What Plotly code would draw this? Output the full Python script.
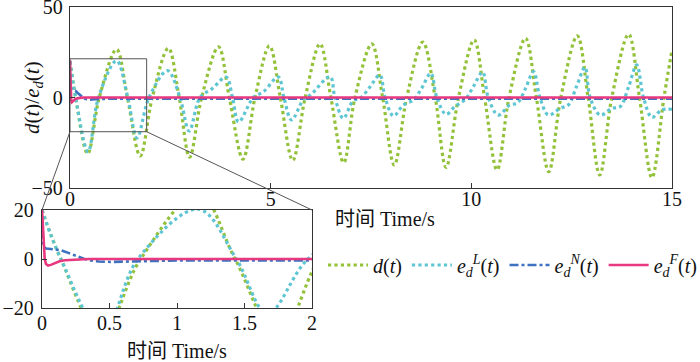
import plotly.graph_objects as go

# ---------------- data ----------------
t_d = [0, 0.14, 0.44, 0.73, 1.16, 1.43, 1.75, 2.05, 2.45, 2.72, 2.98, 3.28, 3.70, 3.97,
       4.31, 4.61, 4.97, 5.24, 5.55, 5.86, 6.23, 6.50, 6.82, 7.10, 7.52, 7.79, 8.08, 8.39,
       8.79, 9.10, 9.37, 9.68, 10.07, 10.33, 10.64, 10.94, 11.35, 11.62, 11.93, 12.23,
       12.64, 12.91, 13.20, 13.50, 13.92, 14.19, 14.50, 14.80, 15.0]
v_d = [20, 0, -31, 0, 26.6, 0, -32.3, 0, 27.2, 0, -33, 0, 28, 0,
       -34, 0, 28.5, 0, -34.7, 0, 29.6, 0, -36, 0, 29.6, 0, -37.3, 0,
       30.6, 0, -38.6, 0, 31.8, 0, -40, 0, 32.7, 0, -41, 0,
       34, 0, -42.8, 0, 34.9, 0, -44.3, 0, 26.2]

t_eL = [0, 0.14, 0.45, 0.71, 1.16, 1.44, 1.67, 1.97, 2.43, 2.74, 2.97, 3.24, 3.55, 3.89,
        4.05, 4.20, 4.57, 4.82, 5.19, 5.33, 5.52, 5.82, 6.00, 6.48, 6.60, 6.81, 7.05, 7.25,
        7.48, 7.72, 7.85, 8.06, 8.31, 8.55, 8.76, 8.99, 9.14, 9.37, 9.59, 9.85, 10.05, 10.28,
        10.42, 10.67, 10.96, 11.15, 11.35, 11.55, 11.71, 11.92, 12.21, 12.42, 12.62, 12.83,
        12.96, 13.21, 13.50, 13.71, 13.92, 14.12, 14.29, 14.50, 14.74, 15.0]
v_eL = [20, 0, -30, 0, 20.3, 0, -22.3, 0, 14.8, 0, -18.5, 0, 5.0, 11.3,
        0, -13.5, 0, 3.2, 11.3, 0, -12.4, -1, 1.5, 11.5, 0, -11.5, -2, 0,
        6, 12.4, 0, -10.2, -4.1, -1.5, 5, 13.4, 0, -9.3, -5, -1, 6, 14,
        0, -9.7, -4.1, -3, 5, 14.3, 0, -9.7, -6, -4, 6, 16.7,
        0, -9.7, -6, -5, 6, 18, 0, -11, -6.9, -6.5]

t_eN = [0, 0.012, 0.03, 0.08, 0.14, 0.20, 0.26, 0.31, 0.36, 0.42, 0.51, 0.62, 0.75, 1.0, 15.0]
v_eN = [12, 5, 4.3, 4.1, 3.6, 2.4, 1.1, 0.1, -0.6, -1.0, -1.2, -1.0, -0.8, -0.6, -0.6]

t_eF = [0, 0.008, 0.02, 0.03, 0.045, 0.065, 0.094, 0.13, 0.17, 0.25, 0.35, 15.0]
v_eF = [20.5, 10, 0, -2, -2.7, -2.4, -1.6, -0.9, -0.5, -0.2, 0, 0]

main_xticks = [0, 5, 10, 15]
main_yticks = [-50, 0, 50]
inset_xticks = [0, 0.5, 1, 1.5, 2]
inset_yticks = [-20, 0, 20]

names = ["<i>d</i>(<i>t</i>)",
         "<i>e</i><sub><i>d</i></sub><sup><i>L</i></sup>(<i>t</i>)",
         "<i>e</i><sub><i>d</i></sub><sup><i>N</i></sup>(<i>t</i>)",
         "<i>e</i><sub><i>d</i></sub><sup><i>F</i></sup>(<i>t</i>)"]

# zoom window drawn on main plot (data coords)
zoom_x = [0, 1.91]
zoom_y = [-18.9, 21.4]

# ---------------- styling ----------------
W, H = 700, 362
ML, MR, MT, MB = 42, 700 - 672, 7, 362 - 308
PW, PH = W - ML - MR, H - MT - MB
SERIF = "Liberation Serif, Times New Roman, Noto Sans CJK SC, serif"

def px2paper_x(px):
    return (px - ML) / PW

def px2paper_y(py):
    return (H - MB - py) / PH

def clamp(v):
    return max(0.0, min(1.0, v))

main_xdom = [clamp(px2paper_x(70)), clamp(px2paper_x(672))]
main_ydom = [clamp(px2paper_y(188)), clamp(px2paper_y(7))]
ins_xdom = [clamp(px2paper_x(42)), clamp(px2paper_x(312))]
ins_ydom = [clamp(px2paper_y(308)), clamp(px2paper_y(210))]

colors = ["#93c13a", "#5ec5d2", "#3c72c0", "#e8387f"]
dashes = ["dot", "dot", "dashdot", "solid"]
widths = [3.2, 3.2, 2.6, 2.6]
shapes_ = ["spline", "spline", "linear", "linear"]
series = [(t_d, v_d), (t_eL, v_eL), (t_eN, v_eN), (t_eF, v_eF)]

fig = go.Figure()
for i, (tt, vv) in enumerate(series):
    fig.add_trace(go.Scatter(x=tt, y=vv, mode="lines", name=names[i],
                             line=dict(color=colors[i], dash=dashes[i], width=widths[i],
                                       shape=shapes_[i], smoothing=1.0),
                             xaxis="x", yaxis="y", showlegend=True))
for i, (tt, vv) in enumerate(series):
    fig.add_trace(go.Scatter(x=tt, y=vv, mode="lines", name=names[i],
                             line=dict(color=colors[i], dash=dashes[i], width=widths[i],
                                       shape=shapes_[i], smoothing=1.0),
                             xaxis="x2", yaxis="y2", showlegend=False))

axis_common = dict(showline=True, mirror=True, linecolor="#333", linewidth=1.3,
                   ticks="inside", ticklen=5, tickcolor="#333", showgrid=False,
                   zeroline=False, ticklabeloverflow="allow",
                   tickfont=dict(family=SERIF, size=20, color="#111"))

fig.update_layout(
    width=W, height=H,
    margin=dict(l=ML, r=MR, t=MT, b=MB, autoexpand=False),
    paper_bgcolor="white", plot_bgcolor="white",
    xaxis=dict(domain=main_xdom, range=[0, 15], tickvals=main_xticks, anchor="y",
               ticklabelstandoff=-7, **axis_common),
    yaxis=dict(domain=main_ydom, range=[-50, 50], tickvals=main_yticks, anchor="x",
               ticklabelstandoff=2, **axis_common),
    xaxis2=dict(domain=ins_xdom, range=[0, 2], tickvals=inset_xticks, anchor="y2",
                ticklabelstandoff=-3, **axis_common),
    yaxis2=dict(domain=ins_ydom, range=[-20, 20], tickvals=inset_yticks, anchor="x2",
                ticklabelstandoff=3, **axis_common),
    legend=dict(orientation="h", x=px2paper_x(323), xanchor="left",
                y=px2paper_y(265), yanchor="middle",
                font=dict(family=SERIF, size=20, color="#111"),
                itemwidth=40, tracegroupgap=0, bgcolor="rgba(0,0,0,0)"),
    showlegend=True,
)

def main_to_px(xv, yv):
    px = 70 + (xv - 0) / 15 * (672 - 70)
    py = 188 - (yv + 50) / 100 * (188 - 7)
    return px, py

# zoom rectangle on main plot
fig.add_shape(type="rect", xref="x", yref="y", x0=zoom_x[0], x1=zoom_x[1],
              y0=zoom_y[0], y1=zoom_y[1], line=dict(color="#555", width=1), layer="above")
# connectors
bl = main_to_px(zoom_x[0], zoom_y[0])
br = main_to_px(zoom_x[1], zoom_y[0])
fig.add_shape(type="line", xref="paper", yref="paper",
              x0=px2paper_x(bl[0]), y0=px2paper_y(bl[1]), x1=ins_xdom[0], y1=ins_ydom[1],
              line=dict(color="#555", width=1), layer="above")
fig.add_shape(type="line", xref="paper", yref="paper",
              x0=px2paper_x(br[0]), y0=px2paper_y(br[1]), x1=ins_xdom[1], y1=ins_ydom[1],
              line=dict(color="#555", width=1), layer="above")

title_font = dict(family=SERIF, size=20, color="#111")
fig.add_annotation(text="时间 Time/s", xref="paper", yref="paper",
                   x=px2paper_x(385), y=px2paper_y(219), xanchor="center", yanchor="middle",
                   showarrow=False, font=title_font)
fig.add_annotation(text="时间 Time/s", xref="paper", yref="paper",
                   x=px2paper_x(177), y=px2paper_y(351), xanchor="center", yanchor="middle",
                   showarrow=False, font=title_font)
fig.add_annotation(text="<i>d</i>(<i>t</i>)/<i>e</i><sub><i>d</i></sub>(<i>t</i>)",
                   xref="paper", yref="paper", x=px2paper_x(33), y=px2paper_y(98),
                   xanchor="center", yanchor="middle",
                   textangle=-90, showarrow=False, font=dict(family=SERIF, size=21, color="#111"))

fig.write_html("out.html", config={"displayModeBar": False},
               post_script="document.body.style.margin='0px';")
